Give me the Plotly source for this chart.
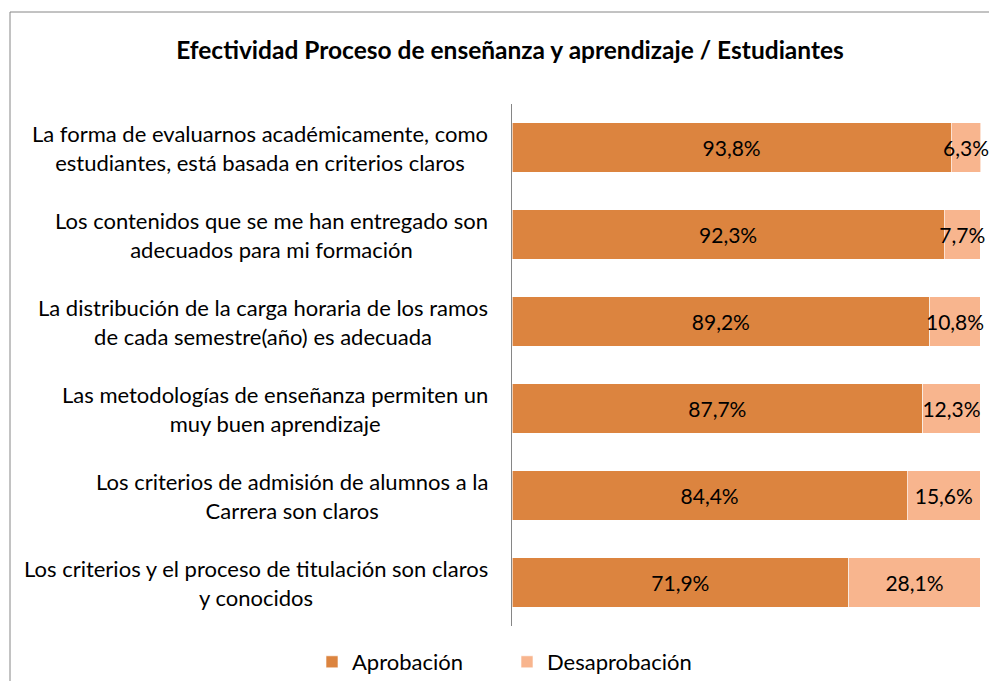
import plotly.graph_objects as go

categorias = [
    "La forma de evaluarnos académicamente, como<br>estudiantes, está basada en criterios claros",
    "Los contenidos que se me han entregado son<br>adecuados para mi formación",
    "La distribución de la carga horaria de los ramos<br>de cada semestre(año) es adecuada",
    "Las metodologías de enseñanza permiten un<br>muy buen aprendizaje",
    "Los criterios de admisión de alumnos a la<br>Carrera son claros",
    "Los criterios y el proceso de titulación son claros<br>y conocidos",
]
aprobacion = [93.8, 92.3, 89.2, 87.7, 84.4, 71.9]
desaprobacion = [6.3, 7.7, 10.8, 12.3, 15.6, 28.1]
series_names = ["Aprobación", "Desaprobación"]
titulo = "Efectividad Proceso de enseñanza y aprendizaje / Estudiantes"

FONT = "Lato"
colors = ["#DC843F", "#F8B58E"]

def fmt(v):
    return f"{v:.1f}".replace(".", ",") + "%"

# page body has an 8px margin; work in figure coordinates
OFF = 8
W, H = 997 - OFF, 681 - OFF
L, T = 512 - OFF, 104 - OFF
R = W - (981 - OFF)
B = H - (626 - OFF)
pw = W - L - R
ph = H - T - B

fig = go.Figure()
for name, vals, col in zip(series_names, [aprobacion, desaprobacion], colors):
    fig.add_trace(go.Bar(
        y=categorias, x=vals, name=name, orientation="h",
        marker=dict(color=col, line=dict(color="rgba(255,255,255,0.6)", width=1)),
        text=[fmt(v) for v in vals], textposition="inside",
        insidetextanchor="middle", textangle=0, cliponaxis=False,
        textfont=dict(family=FONT, size=21, color="black"),
        hoverinfo="skip",
    ))

for c in categorias:
    fig.add_annotation(
        x=0, xref="paper", y=c, yref="y", xanchor="right", xshift=-22,
        text=c, align="center", showarrow=False,
        font=dict(family=FONT, size=22, color="black"),
    )

fig.add_shape(
    type="rect", xref="paper", yref="paper",
    x0=((10 - OFF) - L) / pw, x1=(W + 20 - L) / pw,
    y0=(H - B - (H + 20)) / ph, y1=(H - B - (12 - OFF)) / ph,
    line=dict(color="#868686", width=1), fillcolor="rgba(0,0,0,0)", layer="below",
)

fig.update_layout(
    width=W, height=H,
    margin=dict(l=L, r=R, t=T, b=B),
    paper_bgcolor="white", plot_bgcolor="white",
    barmode="stack", bargap=0.43,
    uniformtext=dict(mode="show", minsize=21),
    title=dict(text="<b>" + titulo + "</b>", x=(510 - OFF) / W, xanchor="center",
               y=1 - (50 - OFF) / H, yanchor="middle", xref="container", yref="container",
               font=dict(family=FONT, size=24.5, color="black")),
    xaxis=dict(range=[0, 100.15], visible=False, fixedrange=True),
    yaxis=dict(autorange="reversed", showticklabels=False, ticks="",
               showline=True, linecolor="#868686", linewidth=1, showgrid=False,
               zeroline=False),
    legend=dict(orientation="h", xref="container", yref="container",
                x=(507 - OFF) / W, xanchor="center", y=1 - (662 - OFF) / H, yanchor="middle",
                font=dict(family=FONT, size=22, color="black"),
                traceorder="normal", entrywidth=150, entrywidthmode="pixels"),
    showlegend=True,
)

fig.write_html("out.html")
